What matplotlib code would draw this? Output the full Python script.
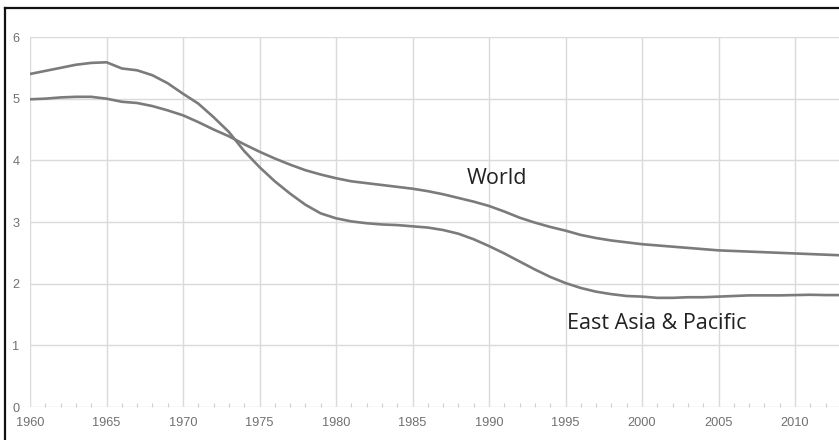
import matplotlib
matplotlib.use("Agg")
import matplotlib.pyplot as plt
from matplotlib.lines import Line2D
from matplotlib.ticker import MultipleLocator

years = list(range(1960, 2014))

east_asia_pacific = [
    5.40, 5.45, 5.50, 5.55, 5.58, 5.59, 5.49, 5.46, 5.38, 5.25,
    5.08, 4.92, 4.70, 4.46, 4.15, 3.89, 3.66, 3.46, 3.28, 3.14,
    3.06, 3.01, 2.98, 2.96, 2.95, 2.93, 2.91, 2.87, 2.81, 2.72,
    2.61, 2.49, 2.36, 2.23, 2.11, 2.01, 1.93, 1.87, 1.83, 1.80,
    1.79, 1.77, 1.77, 1.78, 1.78, 1.79, 1.80, 1.81, 1.81, 1.81,
    1.815, 1.82, 1.815, 1.815,
]

world = [
    4.99, 5.00, 5.02, 5.03, 5.03, 5.00, 4.95, 4.93, 4.88, 4.81,
    4.73, 4.62, 4.50, 4.39, 4.26, 4.14, 4.03, 3.93, 3.84, 3.77,
    3.71, 3.66, 3.63, 3.60, 3.57, 3.54, 3.50, 3.45, 3.39, 3.33,
    3.26, 3.17, 3.07, 2.99, 2.92, 2.86, 2.79, 2.74, 2.70, 2.67,
    2.64, 2.62, 2.60, 2.58, 2.56, 2.54, 2.53, 2.52, 2.51, 2.50,
    2.49, 2.48, 2.47, 2.46,
]

x_ticks = [1960, 1965, 1970, 1975, 1980, 1985, 1990, 1995, 2000, 2005, 2010]
y_ticks = [0, 1, 2, 3, 4, 5, 6]

fig = plt.figure(figsize=(8.39, 4.40), dpi=100)
W, H = 839, 440
ax = fig.add_axes([30 / W, 33 / H, 1 - 30 / W, (407 - 37) / H])

line_color = "#7b7b7b"
ax.plot(years, world, color=line_color, lw=1.9, solid_capstyle="round", zorder=3)
ax.plot(years, east_asia_pacific, color=line_color, lw=1.9, solid_capstyle="round", zorder=3)

ax.set_xlim(1960, 1960 + (W - 30) / 15.3)
ax.set_ylim(0, 6)

ax.set_xticks(x_ticks)
ax.set_xticklabels([str(t) for t in x_ticks])
ax.set_yticks(y_ticks)
ax.set_yticklabels([str(t) for t in y_ticks])
ax.xaxis.set_minor_locator(MultipleLocator(1))

ax.grid(True, which="major", color="#dadada", lw=1.0, zorder=0)
for s in ax.spines.values():
    s.set_visible(False)

ax.tick_params(axis="both", which="major", length=0, labelsize=9.2,
               labelcolor="#707070")
ax.tick_params(axis="x", which="major", pad=7.5)
ax.tick_params(axis="y", which="major", pad=7.5)
ax.tick_params(axis="x", which="minor", direction="in", length=2.6,
               width=0.8, color="#cfcfcf")
for lab in ax.get_xticklabels() + ax.get_yticklabels():
    lab.set_fontfamily("Liberation Sans")

ax.text(1988.55, 3.61, "World", fontsize=15.5, family="Open Sans",
        color="#222222", va="baseline", ha="left")
ax.text(1995.1, 1.265, "East Asia & Pacific", fontsize=15.5, family="Open Sans",
        color="#222222", va="baseline", ha="left")

# Frame lines on the left and top of the figure
fig.add_artist(Line2D([4.5 / W, 4.5 / W], [0, 1 - 8 / H], transform=fig.transFigure,
                      color="#111111", lw=1.6))
fig.add_artist(Line2D([4.5 / W, 1], [1 - 8 / H, 1 - 8 / H], transform=fig.transFigure,
                      color="#111111", lw=1.6))

fig.savefig("out.png", dpi=100)
